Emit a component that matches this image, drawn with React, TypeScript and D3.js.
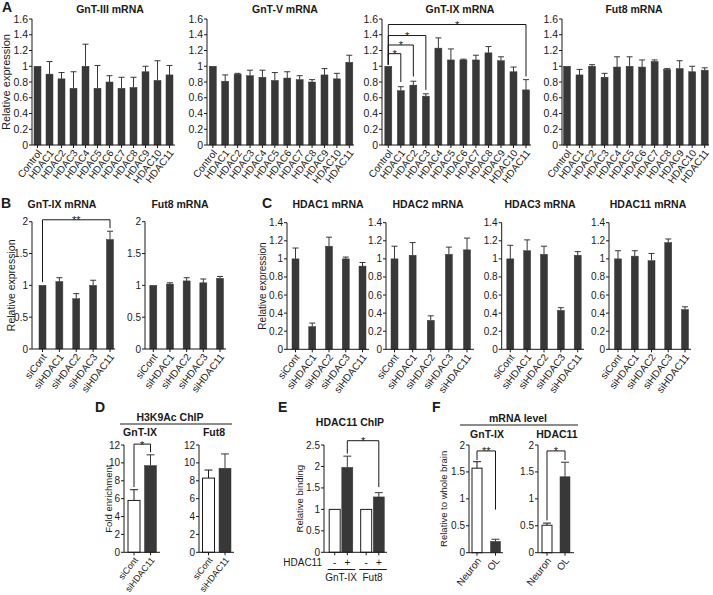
import React from 'react';
import * as d3 from 'd3';

const FONT = '"Liberation Sans", Arial, Helvetica, sans-serif';
const DARK = '#383838';
const INK = '#1a1a1a';

// ---------- Panel A ----------
const aCats = ['Control', 'HDAC1', 'HDAC2', 'HDAC3', 'HDAC4', 'HDAC5', 'HDAC6', 'HDAC7', 'HDAC8', 'HDAC9', 'HDAC10', 'HDAC11'];
const aGnT3Mean = [1.0, 0.9, 0.84, 0.72, 1.0, 0.72, 0.8, 0.72, 0.73, 0.93, 0.82, 0.89];
const aGnT3Err = [0, 0.16, 0.08, 0.21, 0.28, 0.29, 0.08, 0.14, 0.13, 0.07, 0.25, 0.12];
const aGnT5Mean = [1.0, 0.81, 0.9, 0.88, 0.86, 0.82, 0.85, 0.83, 0.8, 0.89, 0.84, 1.05];
const aGnT5Err = [0, 0.08, 0.01, 0.07, 0.09, 0.1, 0.08, 0.05, 0.03, 0.08, 0.07, 0.09];
const aGnT9Mean = [1.0, 0.69, 0.76, 0.62, 1.23, 1.08, 1.08, 1.08, 1.17, 1.07, 0.93, 0.7];
const aGnT9Err = [0, 0.05, 0.05, 0.03, 0.13, 0.14, 0.01, 0.06, 0.08, 0.05, 0.06, 0.13];
const aFut8Mean = [1.0, 0.89, 1.0, 0.86, 0.99, 1.0, 0.99, 1.06, 0.96, 0.97, 0.93, 0.95];
const aFut8Err = [0, 0.07, 0.02, 0.05, 0.13, 0.12, 0.09, 0.02, 0.01, 0.1, 0.07, 0.03];
const aTicks = [0, 0.2, 0.4, 0.6, 0.8, 1, 1.2, 1.4, 1.6];
const aGnT9Sig = [
  { from: 'Control', to: 'HDAC1', top: 1.16, left: 1.02, right: 0.8, label: '*' },
  { from: 'Control', to: 'HDAC2', top: 1.27, left: 1.02, right: 0.87, label: '*' },
  { from: 'Control', to: 'HDAC3', top: 1.39, left: 1.02, right: 0.7, label: '*' },
  { from: 'Control', to: 'HDAC11', top: 1.53, left: 1.02, right: 0.87, label: '*' },
];

// ---------- Panel B ----------
const siCats = ['siCont', 'siHDAC1', 'siHDAC2', 'siHDAC3', 'siHDAC11'];
const bGnT9Mean = [1.0, 1.06, 0.79, 1.0, 1.72];
const bGnT9Err = [0, 0.06, 0.08, 0.08, 0.13];
const bFut8Mean = [1.0, 1.02, 1.07, 1.04, 1.11];
const bFut8Err = [0, 0.02, 0.05, 0.06, 0.03];
const bTicks = [0, 0.5, 1, 1.5, 2];
const bGnT9Sig = [{ from: 'siCont', to: 'siHDAC11', top: 2.03, left: 1.05, right: 1.9, label: '**' }];

// ---------- Panel C ----------
const cHdac1Mean = [1.0, 0.25, 1.14, 1.0, 0.92];
const cHdac1Err = [0.12, 0.04, 0.1, 0.02, 0.04];
const cHdac2Mean = [1.0, 1.04, 0.32, 1.05, 1.1];
const cHdac2Err = [0.14, 0.14, 0.05, 0.08, 0.13];
const cHdac3Mean = [1.0, 1.09, 1.05, 0.43, 1.04];
const cHdac3Err = [0.15, 0.12, 0.09, 0.03, 0.04];
const cHdac11Mean = [1.0, 1.03, 0.98, 1.18, 0.44];
const cHdac11Err = [0.09, 0.06, 0.08, 0.04, 0.03];
const cTicks = [0, 0.2, 0.4, 0.6, 0.8, 1, 1.2, 1.4];

// ---------- Panel D ----------
const dCats = ['siCont', 'siHDAC11'];
const dGnT9Mean = [5.8, 9.7];
const dGnT9Err = [1.2, 1.2];
const dFut8Mean = [8.3, 9.4];
const dFut8Err = [0.9, 1.6];
const dTicks = [0, 2, 4, 6, 8, 10, 12];
const dGnT9Sig = [{ from: 'siCont', to: 'siHDAC11', top: 12.1, left: 7.3, right: 11.2, label: '*' }];

// ---------- Panel E ----------
const eGroups = ['GnT-IX', 'Fut8'];
const eTreat = ['-', '+'];
const eCats = ['GnT-IX -', 'GnT-IX +', 'Fut8 -', 'Fut8 +'];
const eMean = [1.0, 1.98, 1.0, 1.29];
const eErr = [0, 0.26, 0, 0.1];
const eTicks = [0, 0.5, 1, 1.5, 2, 2.5];
const eSig = [{ from: 'GnT-IX +', to: 'Fut8 +', top: 2.6, left: 2.3, right: 1.52, label: '*' }];

// ---------- Panel F ----------
const fCats = ['Neuron', 'OL'];
const fGnT9Mean = [1.57, 0.21];
const fGnT9Err = [0.12, 0.04];
const fHdac11Mean = [0.51, 1.41];
const fHdac11Err = [0.04, 0.27];
const fTicks = [0, 0.5, 1, 1.5, 2];
const fGnT9Sig = [{ from: 'Neuron', to: 'OL', top: 1.89, left: 1.72, right: 0.8, label: '**' }];
const fHdac11Sig = [{ from: 'Neuron', to: 'OL', top: 1.89, left: 0.6, right: 1.72, label: '*' }];

type Sig = { from: string; to: string; top: number; left: number; right: number; label: string };

type PanelProps = {
  cats: string[];
  vals: number[];
  errs: number[];
  x: (c: string) => number;
  axisX: number;
  axisEnd: number;
  yTop: number;
  yZero: number;
  yMax: number;
  ticks: number[];
  barW: number;
  capW: number;
  fills: string[];
  tickSize: number;
  labelSize?: number;
  showLabels?: boolean;
  title?: string;
  titleX?: number;
  titleY?: number;
  titleSize?: number;
  yLabel?: string;
  yLabelX?: number;
  yLabelSize?: number;
  sigs?: Sig[];
};

function Panel(p: PanelProps) {
  const y = d3.scaleLinear().domain([0, p.yMax]).range([p.yZero, p.yTop]);
  const fmt = d3.format('~g');
  return (
    <g fontFamily={FONT} fill={INK}>
      {p.cats.map((c, i) => {
        const v = p.vals[i];
        const cx = p.x(c);
        const white = p.fills[i] === 'white';
        return (
          <rect
            key={'b' + c}
            x={cx - p.barW / 2}
            y={y(v)}
            width={p.barW}
            height={p.yZero - y(v)}
            fill={p.fills[i]}
            stroke={white ? INK : p.fills[i]}
            strokeWidth={white ? 1 : 0.5}
          />
        );
      })}
      {p.cats.map((c, i) => {
        const e = p.errs[i];
        if (!e) return null;
        const v = p.vals[i];
        const cx = p.x(c);
        const col = p.fills[i] === 'white' ? INK : DARK;
        return (
          <g key={'e' + c} stroke={col} strokeWidth={1}>
            <line x1={cx} x2={cx} y1={y(v)} y2={y(v + e)} />
            <line x1={cx - p.capW / 2} x2={cx + p.capW / 2} y1={y(v + e)} y2={y(v + e)} />
          </g>
        );
      })}
      <path d={`M${p.axisX},${p.yTop}V${p.yZero}H${p.axisEnd}`} fill="none" stroke={INK} strokeWidth={1} />
      {p.ticks.map((t) => (
        <g key={'t' + t}>
          <line x1={p.axisX - 3} x2={p.axisX} y1={y(t)} y2={y(t)} stroke={INK} />
          <text x={p.axisX - 4} y={y(t)} dy="0.35em" textAnchor="end" fontSize={p.tickSize}>
            {fmt(t)}
          </text>
        </g>
      ))}
      {p.cats.map((c) => (
        <line key={'xt' + c} x1={p.x(c)} x2={p.x(c)} y1={p.yZero} y2={p.yZero + 3} stroke={INK} />
      ))}
      {p.showLabels !== false &&
        p.cats.map((c) => (
          <text
            key={'xl' + c}
            transform={`translate(${p.x(c) + 2},${p.yZero + 6}) rotate(-52)`}
            textAnchor="end"
            dy="0.35em"
            fontSize={p.labelSize}
          >
            {c}
          </text>
        ))}
      {p.title && (
        <text x={p.titleX} y={p.titleY} textAnchor="middle" fontWeight="bold" fontSize={p.titleSize}>
          {p.title}
        </text>
      )}
      {p.yLabel && (
        <text
          transform={`translate(${p.yLabelX},${(p.yTop + p.yZero) / 2}) rotate(-90)`}
          textAnchor="middle"
          fontSize={p.yLabelSize}
        >
          {p.yLabel}
        </text>
      )}
      {(p.sigs || []).map((s, i) => {
        const x1 = p.x(s.from);
        const x2 = p.x(s.to);
        return (
          <g key={'s' + i}>
            <path
              d={`M${x1},${y(s.left)}V${y(s.top)}H${x2}V${y(s.right)}`}
              fill="none"
              stroke={INK}
              strokeWidth={1}
            />
            <text x={(x1 + x2) / 2} y={y(s.top) + 4.5} textAnchor="middle" fontSize={11}>
              {s.label}
            </text>
          </g>
        );
      })}
    </g>
  );
}

const pt = (cats: string[], a: number, b: number) => {
  const s = d3.scalePoint<string>().domain(cats).range([a, b]);
  return (c: string) => s(c) as number;
};

const darkFill = (n: number) => d3.range(n).map(() => DARK);

export default function App() {
  const aCommon = {
    cats: aCats,
    yTop: 19,
    yZero: 145,
    yMax: 1.6,
    ticks: aTicks,
    barW: 7,
    capW: 6,
    fills: darkFill(12),
    tickSize: 10.5,
    labelSize: 10,
    titleY: 13,
    titleSize: 10.5,
  };
  const bCommon = {
    cats: siCats,
    yTop: 221.7,
    yZero: 349,
    yMax: 2,
    ticks: bTicks,
    barW: 7,
    capW: 6,
    fills: darkFill(5),
    tickSize: 10,
    labelSize: 10,
    titleY: 208,
    titleSize: 10.5,
  };
  const cCommon = {
    cats: siCats,
    yTop: 222.7,
    yZero: 349.3,
    yMax: 1.4,
    ticks: cTicks,
    barW: 7,
    capW: 6,
    fills: darkFill(5),
    tickSize: 10,
    labelSize: 10,
    titleY: 208,
    titleSize: 10.5,
  };
  const dCommon = {
    cats: dCats,
    yTop: 445,
    yZero: 552.3,
    yMax: 12,
    ticks: dTicks,
    barW: 12,
    capW: 8,
    fills: ['white', DARK],
    tickSize: 10,
    labelSize: 9,
  };
  const fCommon = {
    cats: fCats,
    yTop: 445,
    yZero: 552.7,
    yMax: 2,
    ticks: fTicks,
    barW: 10,
    capW: 8,
    fills: ['white', DARK],
    tickSize: 10,
    labelSize: 10,
  };

  const eGroup = d3.scalePoint<string>().domain(eGroups).range([341, 372.5]);
  const eInner = d3.scalePoint<string>().domain(eTreat).range([-6.3, 6.3]);
  const eX = (c: string) => {
    const [g, t] = c.split(' ');
    return (eGroup(g) as number) + (eInner(t) as number);
  };

  return (
    <svg
      width={713}
      height={595}
      style={{ position: 'absolute', left: 0, top: 0, background: 'white' }}
      fontFamily={FONT}
    >
      <rect width={713} height={595} fill="white" />
      <g fontWeight="bold" fontSize={14} fill={INK}>
        <text x={2} y={12}>A</text>
        <text x={1} y={208}>B</text>
        <text x={262} y={208}>C</text>
        <text x={95} y={412}>D</text>
        <text x={278} y={412}>E</text>
        <text x={432} y={412}>F</text>
      </g>

      {/* Panel A */}
      <Panel {...aCommon} vals={aGnT3Mean} errs={aGnT3Err} x={pt(aCats, 37.5, 169.5)} axisX={32} axisEnd={175}
        title="GnT-III mRNA" titleX={110} yLabel="Relative expression" yLabelX={10} yLabelSize={11} />
      <Panel {...aCommon} vals={aGnT5Mean} errs={aGnT5Err} x={pt(aCats, 212.8, 349.3)} axisX={207} axisEnd={354}
        title="GnT-V mRNA" titleX={285} />
      <Panel {...aCommon} vals={aGnT9Mean} errs={aGnT9Err} x={pt(aCats, 388.3, 526)} axisX={382} axisEnd={531}
        title="GnT-IX mRNA" titleX={460} sigs={aGnT9Sig} />
      <Panel {...aCommon} vals={aFut8Mean} errs={aFut8Err} x={pt(aCats, 567, 704.7)} axisX={562} axisEnd={709}
        title="Fut8 mRNA" titleX={634} />

      {/* Panel B */}
      <Panel {...bCommon} vals={bGnT9Mean} errs={bGnT9Err} x={pt(siCats, 42.5, 110)} axisX={32} axisEnd={115}
        title="GnT-IX mRNA" titleX={62} yLabel="Relative expression" yLabelX={15} yLabelSize={10.5} sigs={bGnT9Sig} />
      <Panel {...bCommon} vals={bFut8Mean} errs={bFut8Err} x={pt(siCats, 153.3, 220)} axisX={145} axisEnd={226}
        title="Fut8 mRNA" titleX={180} />

      {/* Panel C */}
      <Panel {...cCommon} vals={cHdac1Mean} errs={cHdac1Err} x={pt(siCats, 295.5, 362.5)} axisX={287} axisEnd={369}
        title="HDAC1 mRNA" titleX={328} yLabel="Relative expression" yLabelX={266} yLabelSize={10} />
      <Panel {...cCommon} vals={cHdac2Mean} errs={cHdac2Err} x={pt(siCats, 394.5, 467)} axisX={386} axisEnd={474}
        title="HDAC2 mRNA" titleX={428} />
      <Panel {...cCommon} vals={cHdac3Mean} errs={cHdac3Err} x={pt(siCats, 510.3, 577.7)} axisX={501.7} axisEnd={584}
        title="HDAC3 mRNA" titleX={540} />
      <Panel {...cCommon} vals={cHdac11Mean} errs={cHdac11Err} x={pt(siCats, 618, 685)} axisX={609} axisEnd={691}
        title="HDAC11 mRNA" titleX={648} />

      {/* Panel D */}
      <g fontFamily={FONT} fill={INK}>
        <text x={170} y={421} textAnchor="middle" fontWeight="bold" fontSize={10.5}>H3K9Ac ChIP</text>
        <line x1={120} x2={232} y1={424} y2={424} stroke={INK} />
        <text x={140} y={436} textAnchor="middle" fontWeight="bold" fontSize={10.5}>GnT-IX</text>
        <text x={214} y={436} textAnchor="middle" fontWeight="bold" fontSize={10.5}>Fut8</text>
      </g>
      <Panel {...dCommon} vals={dGnT9Mean} errs={dGnT9Err} x={pt(dCats, 134, 150.5)} axisX={124} axisEnd={160}
        yLabel="Fold enrichment" yLabelX={112} yLabelSize={9.5} sigs={dGnT9Sig} />
      <Panel {...dCommon} vals={dFut8Mean} errs={dFut8Err} x={pt(dCats, 208.5, 225)} axisX={199} axisEnd={234} />

      {/* Panel E */}
      <Panel cats={eCats} vals={eMean} errs={eErr} x={eX} axisX={324} axisEnd={387} yTop={445} yZero={552.3}
        yMax={2.5} ticks={eTicks} barW={11} capW={8} fills={['white', DARK, 'white', DARK]} tickSize={10}
        showLabels={false} title="HDAC11 ChIP" titleX={350} titleY={426} titleSize={10.5}
        yLabel="Relative binding" yLabelX={303} yLabelSize={9.5} sigs={eSig} />
      <g fontFamily={FONT} fill={INK} fontSize={10}>
        <text x={322} y={566} textAnchor="end">HDAC11</text>
        {eCats.map((c) => (
          <text key={'et' + c} x={eX(c)} y={566} textAnchor="middle">{c.split(' ')[1]}</text>
        ))}
        {eGroups.map((g) => (
          <g key={'eg' + g}>
            <line x1={eX(g + ' -') - 7} x2={eX(g + ' +') + 8} y1={569.5} y2={569.5} stroke={INK} />
            <text x={eGroup(g) as number} y={581} textAnchor="middle">{g}</text>
          </g>
        ))}
      </g>

      {/* Panel F */}
      <g fontFamily={FONT} fill={INK}>
        <text x={518} y={422} textAnchor="middle" fontWeight="bold" fontSize={10.5}>mRNA level</text>
        <line x1={460} x2={578} y1={425} y2={425} stroke={INK} />
        <text x={487} y={438} textAnchor="middle" fontWeight="bold" fontSize={10.5}>GnT-IX</text>
        <text x={557} y={438} textAnchor="middle" fontWeight="bold" fontSize={10.5}>HDAC11</text>
      </g>
      <Panel {...fCommon} vals={fGnT9Mean} errs={fGnT9Err} x={pt(fCats, 477, 495.5)} axisX={469} axisEnd={503}
        yLabel="Relative to whole brain" yLabelX={447} yLabelSize={9.5} sigs={fGnT9Sig} />
      <Panel {...fCommon} vals={fHdac11Mean} errs={fHdac11Err} x={pt(fCats, 547, 565)} axisX={538} axisEnd={574}
        sigs={fHdac11Sig} />
    </svg>
  );
}
